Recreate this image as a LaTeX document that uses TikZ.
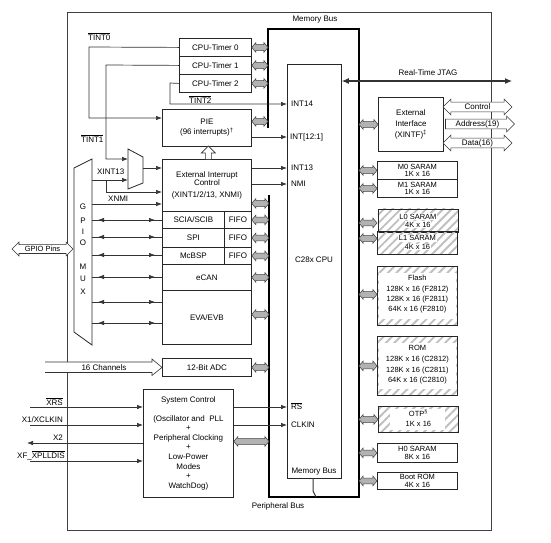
\documentclass[tikz,border=0pt]{standalone}
\usepackage{fontspec}
\setmainfont{Liberation Sans}
\usetikzlibrary{arrows.meta,calc,shapes.arrows,patterns.meta,decorations.markings}
\newcommand\ovl[1]{$\overline{\mbox{#1}}$}
\newcommand\fsz[2]{\fontsize{#1}{#2}\selectfont}
\newcommand\busarr[2]{\path let \p1=(#1), \p2=(#2) in node[busarrow, minimum height={abs(\x2-\x1)}] at ({(\x1+\x2)/2},\y1) {};}
\begin{document}
\begin{tikzpicture}[x=1pt,y=-1pt,font=\fsz{8}{9.5},
  frame/.style={draw=black!75,line width=0.8pt},
  box/.style={draw=black!85,line width=0.8pt,inner sep=0pt,align=center,anchor=north west},
  hbox/.style={box,pattern={Lines[angle=45,distance=6pt,line width=1.9pt]},pattern color=black!25},
  hl/.style={fill=white,inner sep=0.6pt,font=\fsz{7.5}{8}},
  mem/.style={font=\fsz{7.5}{8},align=center,inner sep=0pt},
  lab/.style={inner sep=1pt},
  line/.style={draw=black!80,color=black!80,line width=0.7pt},
  sig/.style={line,-{Latex[length=6pt,width=4.5pt]}},
  gpiotwo/.style={line,postaction={decorate},decoration={markings,
     mark=at position 6pt with {\arrowreversed{Latex[length=6pt,width=4.5pt]}},
     mark=at position -7pt with {\arrow{Latex[length=6pt,width=4.5pt]}}}},
  bus/.style={draw=black,line width=2.2pt},
  muxst/.style={draw=black!85,line width=0.8pt,fill=white},
  busarrow/.style={double arrow,draw=black!75,fill=black!30,line width=0.5pt,inner sep=0pt,
     inner ysep=2.6pt,minimum width=0pt,double arrow head extend=2pt,double arrow tip angle=100},
  hollow/.style={draw=black!80,fill=white,line width=0.6pt,inner xsep=0pt,inner ysep=1.3pt,
     text height=5.6pt,text depth=1pt,anchor=center,double arrow head extend=3pt,
     single arrow head extend=3pt,double arrow tip angle=90,single arrow tip angle=90},
  hol/.style={draw=black!80,fill=white,line width=0.6pt}
]
\useasboundingbox[fill=white] (0,0) rectangle (551,542);
\draw[frame] (67,12) rectangle (491,530);

% bus
\draw[bus] (268,128) -- (268,29) -- (359,29) -- (359,497) -- (269,497) -- (269,195);
\coordinate (mbL) at (268,0);
\coordinate (pbL) at (269,0);
\coordinate (mbR) at (359,0);
\node[lab] (lmb) at (315,20) {Memory Bus};
\node[lab] (lpb) at (278,506) {Peripheral Bus};

% timers, PIE
\node[box,minimum width=72,minimum height=18] (t0) at (179,38) {CPU-Timer 0};
\node[box,minimum width=72,minimum height=18] (t1) at (179,56) {CPU-Timer 1};
\node[box,minimum width=72,minimum height=18] (t2) at (179,74) {CPU-Timer 2};
\node[box,minimum width=89,minimum height=37,font=\fsz{8}{10}] (pie) at (162,109) {PIE\\(96 interrupts)\textsuperscript{†}};

% peripherals
\node[box,minimum width=89,minimum height=52,font=\fsz{8}{8.5}] (eic) at (162,159) {External Interrupt\\Control\\[3pt](XINT1/2/13, XNMI)};
\node[box,minimum width=62,minimum height=17] (sci) at (162,211) {SCIA/SCIB};
\node[box,minimum width=27,minimum height=17] (f1) at (224,211) {FIFO};
\node[box,minimum width=62,minimum height=19] (spi) at (162,228) {SPI};
\node[box,minimum width=27,minimum height=19] (f2) at (224,228) {FIFO};
\node[box,minimum width=62,minimum height=17] (mcb) at (162,247) {McBSP};
\node[box,minimum width=27,minimum height=17] (f3) at (224,247) {FIFO};
\node[box,minimum width=89,minimum height=26] (ecan) at (162,264) {eCAN};
\node[box,minimum width=89,minimum height=54] (eva) at (162,290) {EVA/EVB};
\node[box,minimum width=89,minimum height=18] (adc) at (162,358) {12-Bit ADC};
\node[box,minimum width=90,minimum height=108,font=\fsz{8}{9.6}] (sys) at (143,389) {System Control\\[9pt](Oscillator and\ \ PLL\\+\\Peripheral Clocking\\+\\Low-Power\\Modes\\+\\WatchDog)};

% CPU
\node[box,minimum width=54,minimum height=414] (cpu) at (287,64) {};
\node[lab,anchor=west] (i14) at (290,104) {INT14};
\node[lab,anchor=west] (i121) at (289,137) {INT[12:1]};
\node[lab,anchor=west] (i13) at (290,168) {INT13};
\node[lab,anchor=west] (inmi) at (290,184) {NMI};
\node[lab] (ccpu) at (314,260) {C28x CPU};
\node[lab,anchor=west] (irs) at (290,406) {\ovl{RS}};
\node[lab,anchor=west] (iclk) at (290,425) {CLKIN};
\node[lab] (imb) at (314,472) {Memory Bus};
\draw[line,line width=1pt] (313,478) -- (313,491) -- (316,497);

% right side memories
\node[box,minimum width=65,minimum height=54,font=\fsz{8}{11}] (xintf) at (378,97) {External\\Interface\\(XINTF)\textsuperscript{‡}};
\node[box,minimum width=80,minimum height=18,font=\fsz{7.5}{7.8}] (m0) at (377,161) {M0 SARAM\\1K x 16};
\node[box,minimum width=80,minimum height=18,font=\fsz{7.5}{7.8}] (m1) at (377,179) {M1 SARAM\\1K x 16};
\node[hbox,minimum width=80,minimum height=23] (l0) at (377,208) {};
\node[hl] at ($(l0.center)+(0,-4)$) {L0 SARAM};
\node[hl] at ($(l0.center)+(0,4)$) {4K x 16};
\node[hbox,minimum width=80,minimum height=23] (l1) at (377,231) {};
\node[hl] at ($(l1.center)+(0,-4.5)$) {L1 SARAM};
\node[hl] at ($(l1.center)+(0,4)$) {4K x 16};
\node[hbox,minimum width=80,minimum height=59] (flash) at (377,266) {};
\fill[white] ($(flash.north west)+(1.5,7)$) rectangle ($(flash.south east)+(-1.5,-7)$);
\node[mem,font=\fsz{7.5}{10.4}] at ($(flash.center)+(0,-1.5)$) {Flash\\128K x 16 (F2812)\\128K x 16 (F2811)\\64K x 16 (F2810)};
\node[hbox,minimum width=80,minimum height=59] (rom) at (377,336) {};
\fill[white] ($(rom.north west)+(1.5,7)$) rectangle ($(rom.south east)+(-1.5,-7)$);
\node[mem,font=\fsz{7.5}{10.8}] at ($(rom.center)+(0,-1)$) {ROM\\128K x 16 (C2812)\\128K x 16 (C2811)\\64K x 16 (C2810)};
\node[hbox,minimum width=80,minimum height=26] (otp) at (378,406) {};
\fill[white] ($(otp.north west)+(12,3)$) rectangle ($(otp.south east)+(-14,-3)$);
\node[mem,font=\fsz{7.5}{10}] at ($(otp.center)+(0,-1)$) {OTP\textsuperscript{§}\\1K x 16};
\node[box,minimum width=80,minimum height=19,font=\fsz{7.5}{8.5}] (h0) at (377,443) {H0 SARAM\\8K x 16};
\node[box,minimum width=80,minimum height=17,font=\fsz{7.5}{7.8}] (boot) at (377,472) {Boot ROM\\4K x 16};

% bus arrows
\busarr{t0.east}{mbL}
\busarr{t1.east}{mbL}
\busarr{t2.east}{mbL}
\busarr{$(pie.east)+(0,-6.5)$}{mbL}
\busarr{$(eic.east)+(0,18)$}{pbL}
\busarr{f1.east}{pbL}
\busarr{f2.east}{pbL}
\busarr{f3.east}{pbL}
\busarr{ecan.east}{pbL}
\busarr{$(eva.east)+(0,-3)$}{pbL}
\busarr{adc.east}{pbL}
\busarr{$(sys.east)+(0,-2)$}{pbL}
\busarr{xintf.west}{mbR}
\busarr{m0.west}{mbR}
\busarr{m1.west}{mbR}
\busarr{$(l0.west)+(0,2.5)$}{mbR}
\busarr{$(l1.west)+(0,-4.5)$}{mbR}
\busarr{$(flash.west)+(0,-1.5)$}{mbR}
\busarr{rom.west}{mbR}
\busarr{otp.west}{mbR}
\busarr{h0.west}{mbR}
\busarr{boot.west}{mbR}

% timer interrupts
\draw[sig] (t0.west) -- (89,47) -- (89,118) -- (pie.west |- 0,118);
\node[lab,anchor=base west] (lt0) at (87,40) {\ovl{TINT0}};
\draw[sig] (t1.west) -- (106,65) -- (106,159) -- (128,159);
\node[lab,anchor=base west] (lt1) at (80,142) {\ovl{TINT1}};
\draw[sig] (t2.west) -- (170,83) -- (170,104) -- (cpu.west |- 0,104);
\node[lab,anchor=base west] (lt2) at (188,103) {\ovl{TINT2}};

% interrupt mux
\draw[muxst] (128,149) -- (143,157) -- (143,183) -- (128,189) -- cycle;
\coordinate (imux) at (143,168);
\draw[sig] (imux) -- (eic.west |- imux);
\draw[sig] (92,180) -- (128,180);
\draw[sig] (106,180) -- (106,192) -- (eic.west |- 0,192);
\node[lab,anchor=base west] (lx13) at (96,174) {XINT13};
\draw[sig] (92,204) -- (eic.west |- 0,204);
\node[lab,anchor=base west] (lxnmi) at (107,201) {XNMI};

% GPIO mux
\draw[muxst] (74,168) -- (92,159) -- (92,345) -- (74,332) -- cycle;
\foreach \ch/\yy in {G/207,P/221,I/232,O/243,M/267,U/279,X/292} \node[lab] at (83,\yy) {\ch};
\foreach \yy in {220,237,255,277,302,323} \draw[gpiotwo] (92,\yy) -- (eic.west |- 0,\yy);
\node[hollow,double arrow,minimum height=61,font=\fsz{7.5}{8},text height=5.3pt,inner ysep=1pt,double arrow head extend=2.5pt] (gpin) at (42.5,249) {GPIO Pins};

% CPU inputs
\draw[sig] (pie.east |- 0,137) -- (cpu.west |- 0,137);
\draw[sig] (eic.east |- 0,168) -- (cpu.west |- 0,168);
\draw[sig] (eic.east |- 0,184) -- (cpu.west |- 0,184);
\draw[sig] (sys.east |- 0,407) -- (cpu.west |- 0,407);
\draw[sig] (sys.east |- 0,425) -- (cpu.west |- 0,425);

% PIE up arrow
\draw[hol] ($(eic.north)+(-1.5,0)$) -- ++(0,-6) -- ++(-4,0) -- ++(7,-7) -- ++(7,7) -- ++(-4,0) -- ++(0,6);

% ADC input
\draw[hol] (45,362) -- (152,362) -- (152,359) -- (adc.west) -- (152,375.5) -- (152,372.5) -- (45,372.5);
\node[lab] (l16) at (104,367.5) {16 Channels};

% system control pins
\draw[sig] (30,407) -- (sys.west |- 0,407);
\node[lab,anchor=base east] (lxrs) at (64,405) {\ovl{XRS}};
\draw[sig] (30,425) -- (sys.west |- 0,425);
\node[lab,anchor=base east] (lx1) at (64,422.5) {X1/XCLKIN};
\draw[sig] (sys.west |- 0,443) -- (27,443);
\node[lab,anchor=base east] (lx2) at (64,440) {X2};
\draw[sig] (30,461) -- (sys.west |- 0,461);
\node[lab,anchor=base east] (lxf) at (66,458) {XF\_\ovl{XPLLDIS}};

% JTAG
\draw[line,line width=1.1pt,{Latex[length=7pt,width=6pt]}-{Latex[length=7pt,width=6pt]}] (cpu.east |- 0,81) -- (512,81);
\node[lab] (ljtag) at (428,73) {Real-Time JTAG};

% external interface arrows
\node[hollow,double arrow,minimum height=69] (actl) at (477.5,107) {Control};
\node[hollow,single arrow,minimum height=69] (aadr) at (477.5,124) {Address(19)};
\node[hollow,double arrow,minimum height=69] (adat) at (477.5,143) {Data(16)};
\end{tikzpicture}
\end{document}
